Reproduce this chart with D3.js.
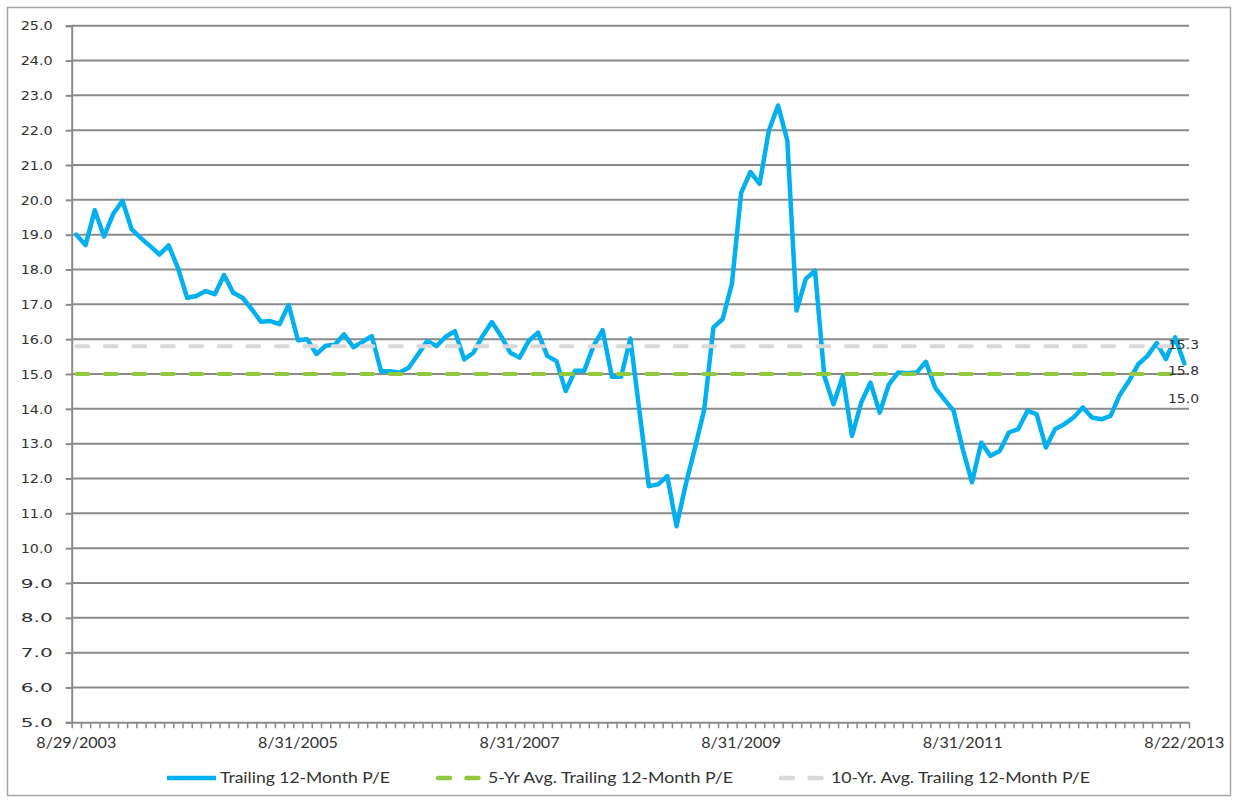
<!DOCTYPE html>
<html>
<head>
<meta charset="utf-8">
<script src="https://cdn.jsdelivr.net/npm/d3@7"></script>
<style>
  html, body { margin: 0; padding: 0; background: #fff; }
  svg { display: block; }
</style>
</head>
<body>
<svg id="chart" width="1238" height="800"></svg>
<script>
// ---- Data (monthly, 8/29/2003 .. 8/22/2013) ----
const peValues = [
  19.0, 18.7, 19.7, 18.95, 19.6, 19.97, 19.15, 18.9, 18.67, 18.43,
  18.69, 18.05, 17.19, 17.24, 17.38, 17.29, 17.84, 17.33, 17.19, 16.86,
  16.5, 16.52, 16.43, 16.98, 15.97, 16.0, 15.57, 15.81, 15.84, 16.14,
  15.77, 15.92, 16.09, 15.08, 15.08, 15.04, 15.18, 15.56, 15.95, 15.8,
  16.07, 16.23, 15.42, 15.61, 16.09, 16.49, 16.09, 15.61, 15.47, 15.95,
  16.19, 15.52, 15.37, 14.51, 15.09, 15.09, 15.8, 16.26, 14.92, 14.92,
  16.02, 13.9, 11.78, 11.83, 12.07, 10.63, 11.83, 12.88, 13.98, 16.34,
  16.58, 17.6, 20.2, 20.8, 20.46, 21.99, 22.71, 21.7, 16.82, 17.73,
  17.97, 14.95, 14.13, 14.93, 13.22, 14.18, 14.75, 13.89, 14.7, 15.04,
  15.02, 15.04, 15.35, 14.61, 14.27, 13.95, 12.84, 11.89, 13.03, 12.65,
  12.79, 13.32, 13.42, 13.94, 13.85, 12.89, 13.42, 13.56, 13.75, 14.04,
  13.75, 13.7, 13.8, 14.4, 14.8, 15.28, 15.52, 15.89, 15.43, 16.05,
  15.3
];
const avg5Yr = 15.0;
const avg10Yr = 15.8;
const xTickIndex  = [0, 24, 48, 72, 96, 120];
const xTickLabels = ["8/29/2003", "8/31/2005", "8/31/2007", "8/31/2009", "8/31/2011", "8/22/2013"];
const yTicks = d3.range(5, 25.01, 1);
const seriesNames = ["Trailing 12-Month P/E", "5-Yr Avg. Trailing 12-Month P/E", "10-Yr. Avg. Trailing 12-Month P/E"];
const endLabels = ["15.3", "15.8", "15.0"];

// ---- Layout ----
const svg = d3.select("#chart");
const L = 71.7, R = 1189, T = 25.7, B = 722.3;
const gridColor = "#8a8a8a";
const blue = "#00B0F0", green = "#92C83E", grey = "#D9D9D9";
const numFont = "'DejaVu Sans', Verdana, sans-serif";
const txtFont = "Lato, 'Open Sans', sans-serif";

svg.append("rect").attr("x", 7.5).attr("y", 7.5).attr("width", 1223).attr("height", 788)
  .attr("fill", "#fff").attr("stroke", "#a6a6a6").attr("stroke-width", 1.5);

const n = peValues.length;
const xBand = d3.scaleBand().domain(d3.range(n)).range([L, R]).paddingInner(0).paddingOuter(0);
const xc = i => xBand(i) + xBand.bandwidth() / 2;
const xEdge = d3.scaleLinear().domain([0, n]).range([L, R]);
const y = d3.scaleLinear().domain([5, 25]).range([B, T]);

// gridlines
svg.append("g").selectAll("line").data(yTicks.filter(v => v > 5)).join("line")
  .attr("x1", L).attr("x2", R).attr("y1", d => y(d)).attr("y2", d => y(d))
  .attr("stroke", gridColor).attr("stroke-width", 2);

// y axis
const yAxis = svg.append("g").attr("transform", `translate(${L},0)`)
  .call(d3.axisLeft(y).tickValues(yTicks).tickFormat(d3.format(".1f")).tickSize(6).tickPadding(13));
yAxis.select(".domain").attr("stroke", gridColor).attr("stroke-width", 2);
yAxis.selectAll(".tick line").attr("stroke", gridColor).attr("stroke-width", 2);
yAxis.selectAll("text").attr("font-family", numFont).attr("font-size", 13).attr("fill", "#333")
  .attr("textLength", 32).attr("lengthAdjust", "spacingAndGlyphs");

// x axis (tick marks at category edges)
const xAxis = svg.append("g").attr("transform", `translate(0,${B})`)
  .call(d3.axisBottom(xEdge).tickValues(d3.range(0, n + 1)).tickFormat("").tickSize(6).tickSizeOuter(0));
xAxis.select(".domain").attr("stroke", gridColor).attr("stroke-width", 2);
xAxis.selectAll(".tick line").attr("stroke", gridColor).attr("stroke-width", 1.5);

svg.append("g").selectAll("text").data(xTickIndex).join("text")
  .attr("x", d => xc(d)).attr("y", 748)
  .attr("text-anchor", "middle")
  .attr("font-family", txtFont).attr("font-size", 15).attr("fill", "#333")
  .attr("textLength", 80).attr("lengthAdjust", "spacingAndGlyphs")
  .text((d, k) => xTickLabels[k]);

// P/E line
const line = d3.line().x((d, i) => xc(i)).y(d => y(d));
svg.append("path").datum(peValues).attr("d", line)
  .attr("fill", "none").attr("stroke", blue).attr("stroke-width", 4.5)
  .attr("stroke-linejoin", "round").attr("stroke-linecap", "round");

// average lines
const avgLine = (val, color) => svg.append("path")
  .datum(peValues.map(() => val)).attr("d", line)
  .attr("fill", "none").attr("stroke", color).attr("stroke-width", 4)
  .attr("stroke-dasharray", "12,16.5").attr("stroke-linecap", "round");
avgLine(avg5Yr, green);
avgLine(avg10Yr, grey);

// end labels
const endY = [344, 370, 398.5];
svg.append("g").selectAll("text").data(endLabels).join("text")
  .attr("x", 1168).attr("y", (d, k) => endY[k]).attr("dy", "0.36em")
  .attr("font-family", numFont).attr("font-size", 13).attr("fill", "#333")
  .attr("textLength", 31).attr("lengthAdjust", "spacingAndGlyphs")
  .text(d => d);

// legend
const legY = 778;
const legend = [
  { name: seriesNames[0], color: blue, dash: null, sx1: 167, sx2: 216, tx: 220, tl: 170 },
  { name: seriesNames[1], color: green, dash: "12,16.5", sx1: 438, sx2: 480, tx: 488, tl: 245 },
  { name: seriesNames[2], color: grey, dash: "12,16.5", sx1: 781, sx2: 823, tx: 831, tl: 259 }
];
const lg = svg.append("g");
legend.forEach(l => {
  lg.append("line").attr("x1", l.sx1).attr("x2", l.sx2).attr("y1", legY).attr("y2", legY)
    .attr("stroke", l.color).attr("stroke-width", 4.5)
    .attr("stroke-linecap", l.dash ? "round" : "butt")
    .attr("stroke-dasharray", l.dash);
  lg.append("text").attr("x", l.tx).attr("y", legY).attr("dy", "0.35em")
    .attr("font-family", txtFont).attr("font-size", 15).attr("fill", "#333")
    .attr("textLength", l.tl).attr("lengthAdjust", "spacingAndGlyphs")
    .text(l.name);
});
</script>
</body>
</html>
